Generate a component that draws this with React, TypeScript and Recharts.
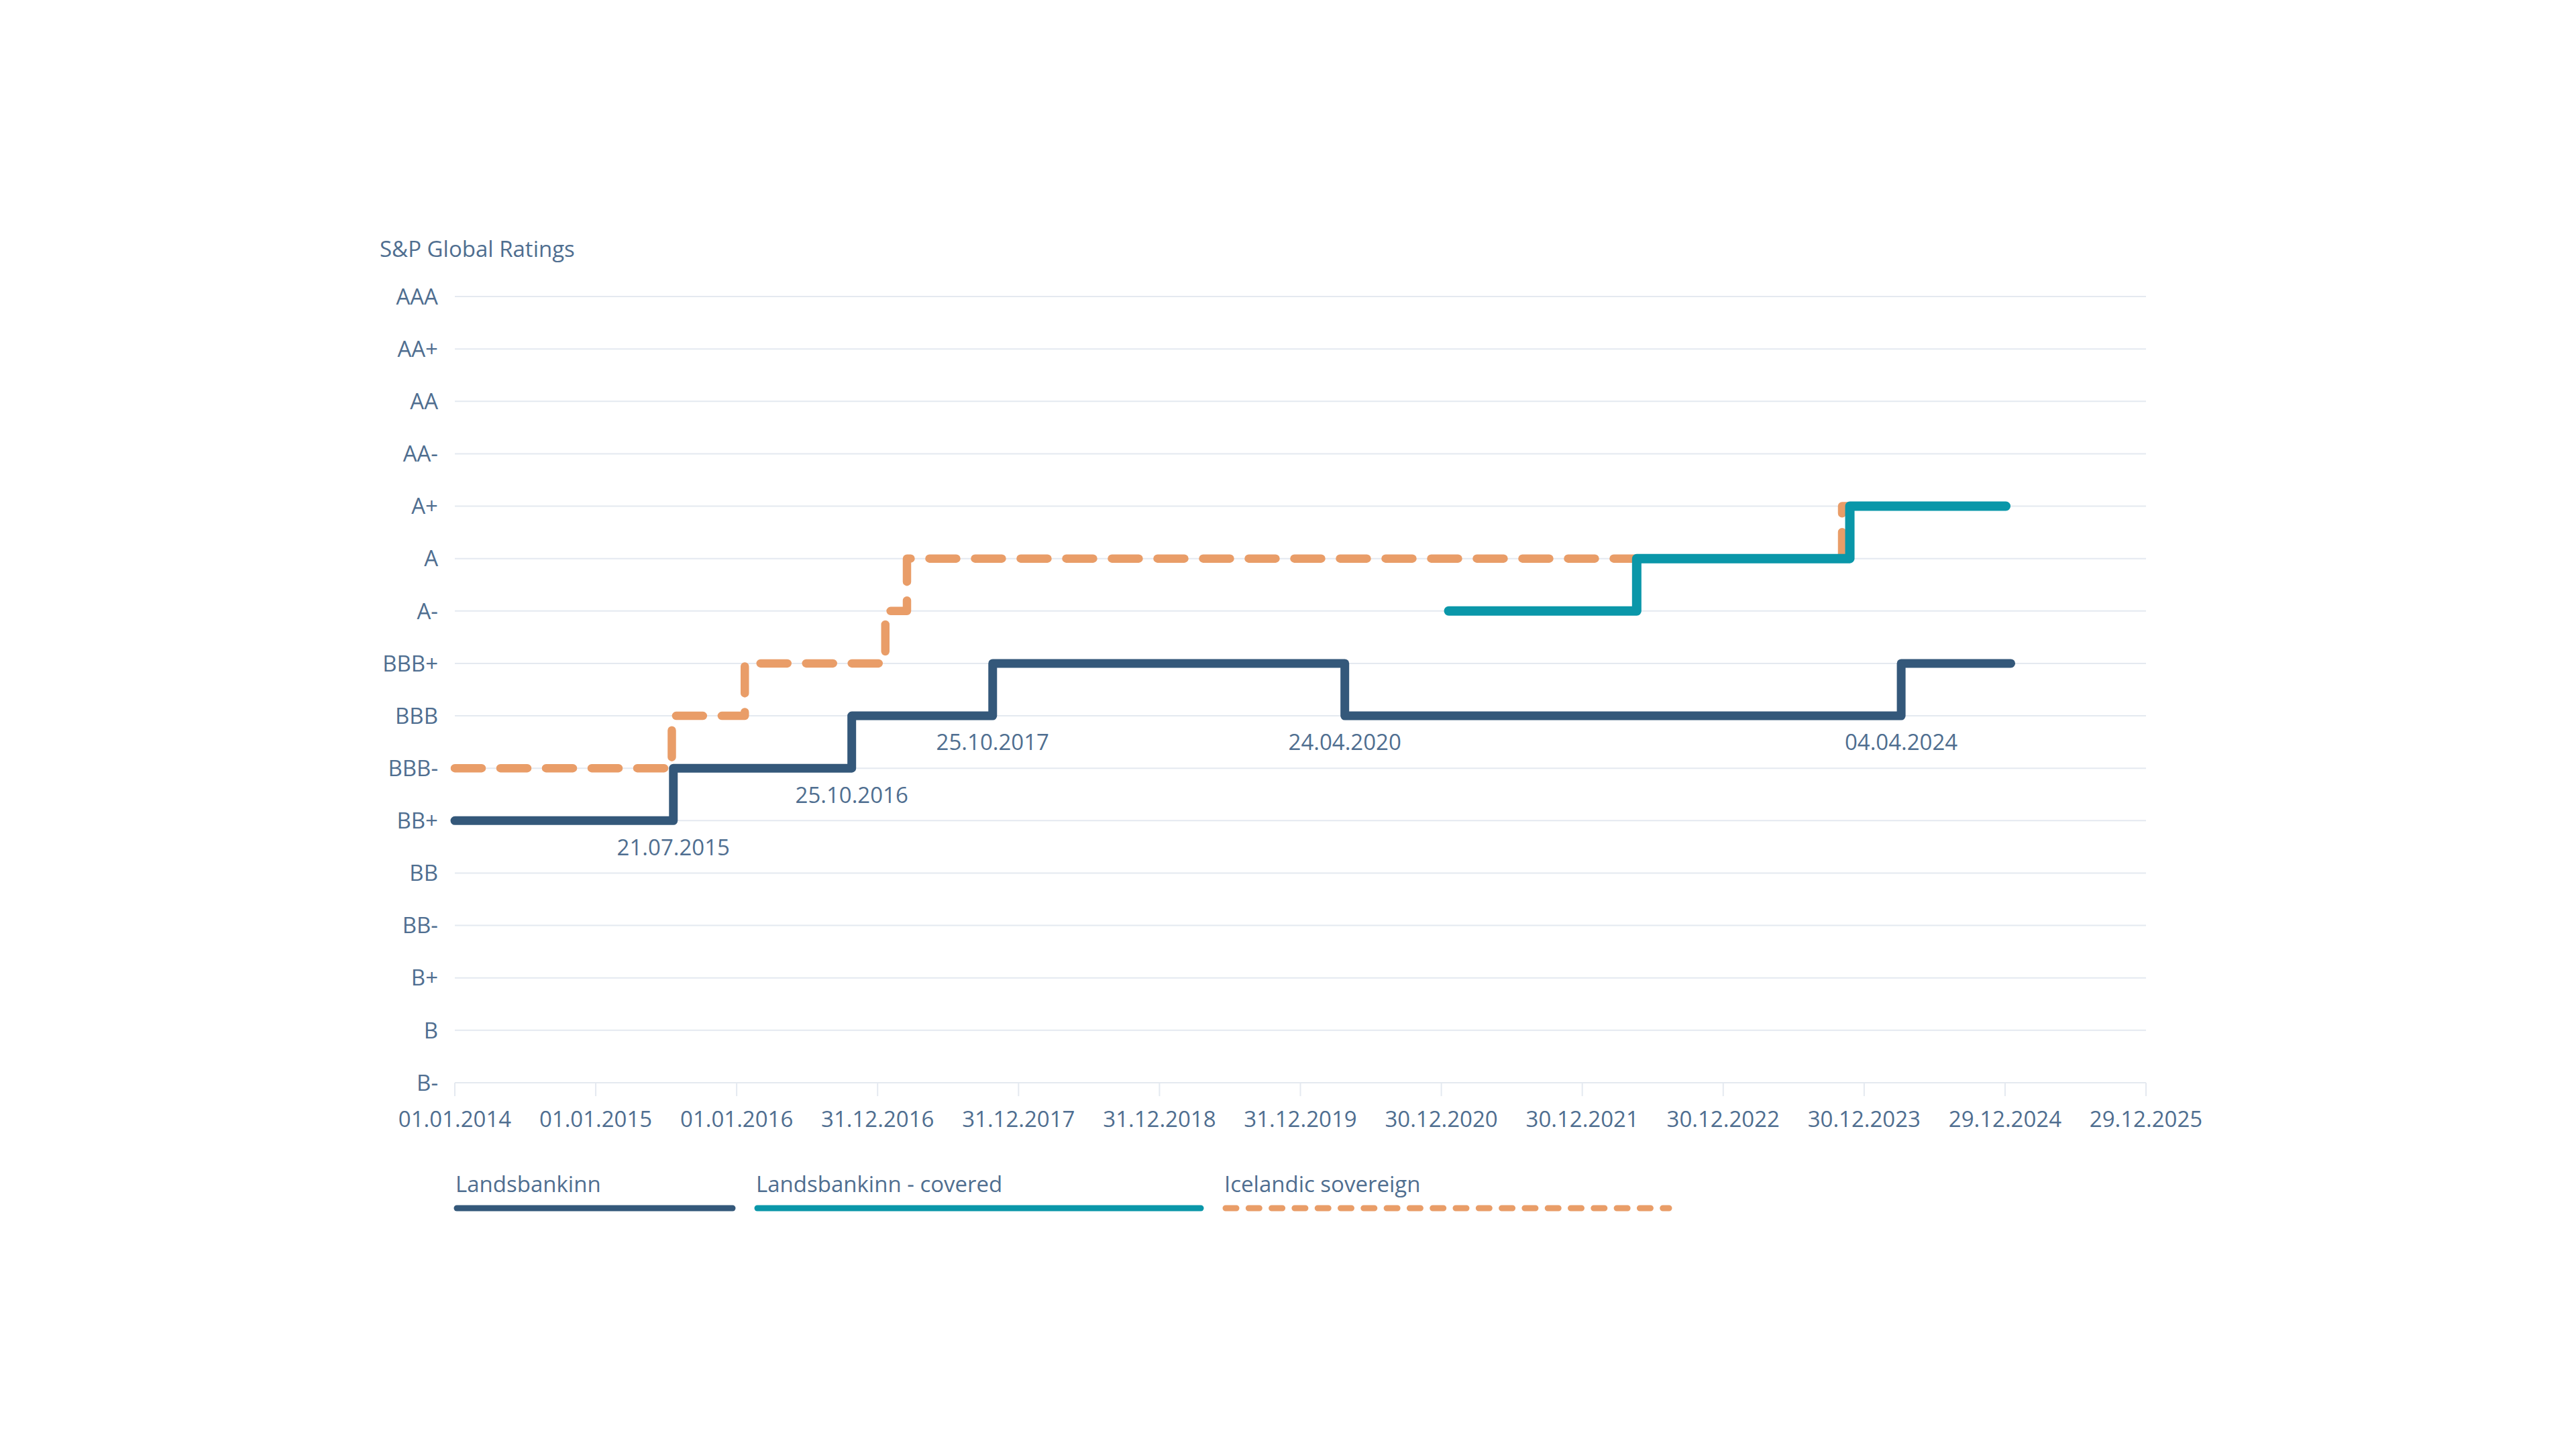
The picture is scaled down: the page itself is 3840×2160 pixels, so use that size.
import { LineChart, Line, XAxis, YAxis, CartesianGrid, ReferenceDot } from "recharts"

// ---------- data ----------

const ratings = ["B-", "B", "B+", "BB-", "BB", "BB+", "BBB-", "BBB", "BBB+", "A-", "A", "A+", "AA-", "AA", "AA+", "AAA"]

const xTickLabels = [
  "01.01.2014", "01.01.2015", "01.01.2016", "31.12.2016", "31.12.2017", "31.12.2018", "31.12.2019",
  "30.12.2020", "30.12.2021", "30.12.2022", "30.12.2023", "29.12.2024", "29.12.2025",
]

const bankDates = ["01.01.2014", "21.07.2015", "25.10.2016", "25.10.2017", "24.04.2020", "04.04.2024", "13.01.2025"]
const bankRatings = ["BB+", "BBB-", "BBB", "BBB+", "BBB", "BBB+", "BBB+"]

const coveredDates = ["18.01.2021", "20.05.2022", "23.11.2023", "31.12.2024"]
const coveredRatings = ["A-", "A", "A+", "A+"]

const sovereignDates = ["01.01.2014", "17.07.2015", "22.01.2016", "20.01.2017", "17.03.2017", "03.11.2023", "31.12.2024"]
const sovereignRatings = ["BBB-", "BBB", "BBB+", "A-", "A", "A+", "A+"]

// date notes shown under the Landsbankinn steps
const noteDates = ["21.07.2015", "25.10.2016", "25.10.2017", "24.04.2020", "04.04.2024"]
const noteRatings = ["BB+", "BBB-", "BBB", "BBB", "BBB"]

const seriesNames = ["Landsbankinn", "Landsbankinn - covered", "Icelandic sovereign"]

// ---------- helpers ----------

const toTime = (s: string) => {
  const [d, m, y] = s.split(".").map(Number)
  return Date.UTC(y, m - 1, d)
}

const toRows = (dates: string[], levels: string[]) =>
  dates.map((d, i) => ({ t: toTime(d), v: ratings.indexOf(levels[i]) }))

const bankData = toRows(bankDates, bankRatings)
const coveredData = toRows(coveredDates, coveredRatings)
const sovereignData = toRows(sovereignDates, sovereignRatings)
const xTicks = xTickLabels.map(toTime)
const labelByTime = new Map(xTicks.map((t, i) => [t, xTickLabels[i]]))

const FONT = "'Open Sans', 'Noto Sans', sans-serif"
const TEXT = "#4f6e90"
const GRID = "#e4e9f0"
const NAVY = "#34587a"
const TEAL = "#0a97a9"
const ORANGE = "#e99d68"

const legendStyle = [
  { color: NAVY, left: 676, width: 421, dashed: false },
  { color: TEAL, left: 1124, width: 671, dashed: false },
  { color: ORANGE, left: 1822, width: 671, dashed: true },
]

export default function App() {
  return (
    <div style={{ position: "absolute", left: 0, top: 0, width: 3840, height: 2160, background: "#fff", fontFamily: FONT }}>
      <div style={{ position: "absolute", left: 566, top: 354, fontSize: 33, lineHeight: 1, color: TEXT, whiteSpace: "nowrap" }}>
        S&amp;P Global Ratings
      </div>

      <LineChart
        width={3840}
        height={2160}
        margin={{ top: 442, right: 641, bottom: 446, left: 0 }}
        style={{ fontFamily: FONT }}
      >
        <CartesianGrid vertical={false} stroke={GRID} strokeWidth={2} />
        <XAxis
          type="number"
          dataKey="t"
          domain={[xTicks[0], xTicks[xTicks.length - 1]]}
          ticks={xTicks}
          tickFormatter={(t: number) => labelByTime.get(t) ?? ""}
          interval={0}
          height={100}
          tickSize={20}
          tickMargin={23}
          axisLine={{ stroke: GRID, strokeWidth: 2 }}
          tickLine={{ stroke: GRID, strokeWidth: 2 }}
          tick={{ fill: TEXT, fontSize: 33, fontFamily: FONT }}
        />
        <YAxis
          type="number"
          domain={[0, 15]}
          ticks={ratings.map((_, i) => i)}
          tickFormatter={(v: number) => ratings[v]}
          interval={0}
          width={678}
          axisLine={false}
          tickLine={false}
          tickSize={0}
          tickMargin={25}
          tick={{ fill: TEXT, fontSize: 33, fontFamily: FONT }}
        />

        <Line
          data={sovereignData}
          dataKey="v"
          type="stepAfter"
          stroke={ORANGE}
          strokeWidth={12.5}
          strokeDasharray="40 28"
          strokeLinecap="round"
          strokeLinejoin="round"
          dot={false}
          activeDot={false}
          isAnimationActive={false}
        />
        <Line
          data={bankData}
          dataKey="v"
          type="stepAfter"
          stroke={NAVY}
          strokeWidth={13}
          strokeLinecap="round"
          strokeLinejoin="round"
          dot={false}
          activeDot={false}
          isAnimationActive={false}
        />
        <Line
          data={coveredData}
          dataKey="v"
          type="stepAfter"
          stroke={TEAL}
          strokeWidth={14}
          strokeLinecap="round"
          strokeLinejoin="round"
          dot={false}
          activeDot={false}
          isAnimationActive={false}
        />

        {noteDates.map((d, i) => (
          <ReferenceDot
            key={d}
            x={toTime(d)}
            y={ratings.indexOf(noteRatings[i])}
            r={1}
            fill="none"
            stroke="none"
            label={{ value: d, position: "bottom", offset: 27, fill: TEXT, fontSize: 33, fontFamily: FONT }}
          />
        ))}
      </LineChart>

      {seriesNames.map((name, i) => {
        const s = legendStyle[i]
        return (
          <div key={name}>
            <div style={{ position: "absolute", left: s.left + 3, top: 1748, fontSize: 33, lineHeight: 1, color: TEXT, whiteSpace: "nowrap" }}>
              {name}
            </div>
            <svg style={{ position: "absolute", left: s.left, top: 1790 }} width={s.width} height={22}>
              <line
                x1={5}
                x2={s.width - 5}
                y1={11}
                y2={11}
                stroke={s.color}
                strokeWidth={9}
                strokeLinecap="round"
                strokeDasharray={s.dashed ? "16 18.3" : undefined}
              />
            </svg>
          </div>
        )
      })}
    </div>
  )
}
